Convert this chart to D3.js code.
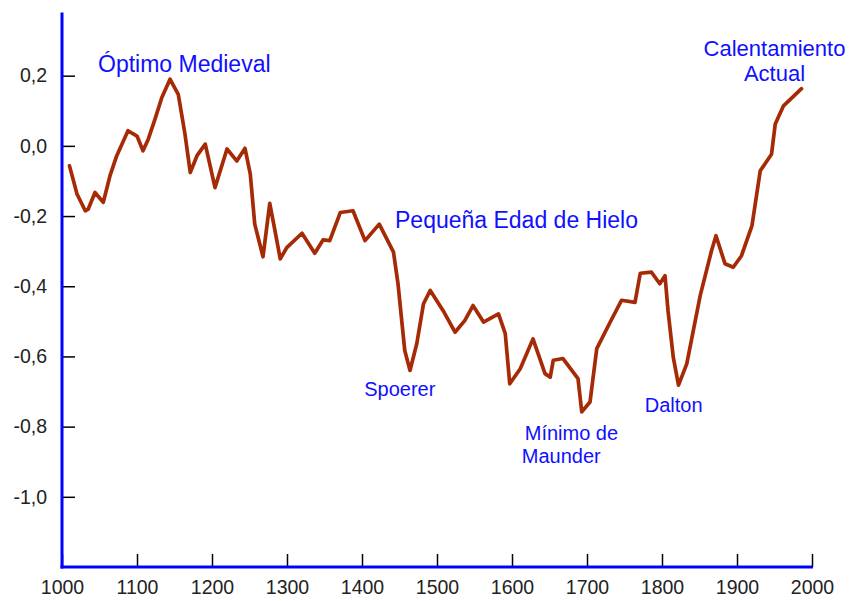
<!DOCTYPE html>
<html>
<head>
<meta charset="utf-8">
<script src="https://cdn.jsdelivr.net/npm/d3@7"></script>
<style>
  html, body { margin: 0; padding: 0; background: #ffffff; }
  svg { display: block; }
  text { font-family: "Liberation Sans", Arial, sans-serif; }
</style>
</head>
<body>
<svg id="chart" width="853" height="601"></svg>
<script>
// ---- data ----
const years = [1010,1020,1031,1035,1044,1055,1064,1073,1088,1100,1108,1115,1124,1133,1144,1155,1164,1171,1180,1191,
  1197,1204,1220,1233,1244,1251,1257,1268,1277,1284,1291,1300,1320,1337,1348,1357,1371,1388,1404,1423,
  1442,1448,1457,1464,1473,1482,1491,1508,1524,1537,1548,1562,1582,1591,1597,1611,1628,1644,1651,1655,
  1668,1688,1693,1704,1713,1731,1746,1764,1771,1786,1797,1804,1808,1815,1822,1833,1851,1866,1872,1884,
  1895,1906,1920,1931,1946,1951,1962,1986];
const anomalies = [-0.057,-0.137,-0.185,-0.180,-0.133,-0.161,-0.085,-0.028,0.043,0.028,-0.014,0.019,0.076,0.137,0.190,0.147,0.033,-0.076,-0.028,0.005,
  -0.052,-0.119,-0.009,-0.043,-0.007,-0.080,-0.223,-0.316,-0.164,-0.242,-0.322,-0.289,-0.249,-0.306,-0.268,-0.270,-0.190,-0.185,-0.270,-0.223,
  -0.303,-0.393,-0.583,-0.640,-0.564,-0.450,-0.412,-0.469,-0.531,-0.498,-0.455,-0.502,-0.479,-0.535,-0.678,-0.635,-0.550,-0.649,-0.659,-0.611,
  -0.606,-0.663,-0.758,-0.730,-0.578,-0.502,-0.440,-0.446,-0.363,-0.360,-0.393,-0.370,-0.469,-0.602,-0.682,-0.621,-0.426,-0.299,-0.256,-0.336,
  -0.346,-0.313,-0.227,-0.071,-0.024,0.062,0.114,0.163];
const xTicks = [1000,1100,1200,1300,1400,1500,1600,1700,1800,1900,2000];
const yTicks = [0.2,0.0,-0.2,-0.4,-0.6,-0.8,-1.0];
// annotation lines (multi-line labels are arrays of lines)
const labelTexts = [["Óptimo Medieval"],["Pequeña Edad de Hielo"],["Calentamiento","Actual"],["Spoerer"],["Mínimo de","Maunder"],["Dalton"]];
const labelYears = [1048,1444,1950,1403,1617,1777];
const labelValues = [0.21,-0.235,0.257,-0.713,-0.838,-0.757];

// ---- layout ----
const svg = d3.select("#chart");
const x = d3.scaleLinear().domain([1000, 2000]).range([62, 812]);
const y = d3.scaleLinear().domain([-1.2, 0.38]).range([567, 12.5]);

const loc = d3.formatLocale({decimal: ",", thousands: ".", grouping: [3], currency: ["", ""], minus: "-"});
const fmt = loc.format(".1f");

// Y axis ticks (inward)
const gy = svg.append("g").attr("transform", `translate(${x(1000)},0)`)
  .call(d3.axisLeft(y).tickValues(yTicks).tickSize(-13).tickPadding(15).tickFormat(fmt));
gy.select(".domain").remove();
gy.selectAll(".tick line").attr("stroke", "#000").attr("stroke-width", 1.5);
gy.selectAll(".tick text").attr("fill", "#222").style("font-size", "19.5px")
  .style("font-family", "'Liberation Sans', Arial, sans-serif");

// X axis ticks (inward)
const gx = svg.append("g").attr("transform", `translate(0,${y(-1.2)})`)
  .call(d3.axisBottom(x).tickValues(xTicks).tickSize(-13).tickPadding(13).tickFormat(d3.format("d")));
gx.select(".domain").remove();
gx.selectAll(".tick line").attr("stroke", "#000").attr("stroke-width", 1.5);
gx.selectAll(".tick text").attr("fill", "#222").style("font-size", "19.5px")
  .style("font-family", "'Liberation Sans', Arial, sans-serif");

// blue axis lines
svg.append("line").attr("x1", x(1000)).attr("x2", x(1000)).attr("y1", y(0.38)).attr("y2", y(-1.2) + 1.5)
  .attr("stroke", "#0000ff").attr("stroke-width", 3);
svg.append("line").attr("x1", x(1000) - 1.5).attr("x2", x(2000) + 1).attr("y1", y(-1.2)).attr("y2", y(-1.2))
  .attr("stroke", "#0000ff").attr("stroke-width", 3);

// data line
const pts = years.map((yr, i) => [yr, anomalies[i]]);
svg.append("path").datum(pts)
  .attr("fill", "none").attr("stroke", "#a52a05").attr("stroke-width", 3.7)
  .attr("stroke-linejoin", "round").attr("stroke-linecap", "round")
  .attr("d", d3.line().x(d => x(d[0])).y(d => y(d[1])));

// annotations
const sizes = [23, 23, 22, 20, 20, 20];
const lineGaps = [0, 0, 25, 0, 23, 0];
const anchors = ["start", "start", "middle", "start", "start", "start"];
const lineOffsets = [[0], [0], [0, 0], [0], [0, -3], [0]];
labelTexts.forEach((lines, i) => {
  const t = svg.append("text").attr("x", x(labelYears[i])).attr("y", y(labelValues[i]))
    .attr("text-anchor", anchors[i]).attr("fill", "#1010ff")
    .style("font-size", sizes[i] + "px");
  lines.forEach((ln, j) => {
    t.append("tspan").attr("x", x(labelYears[i]) + lineOffsets[i][j])
      .attr("dy", j === 0 ? 0 : lineGaps[i]).text(ln);
  });
});
</script>
</body>
</html>
